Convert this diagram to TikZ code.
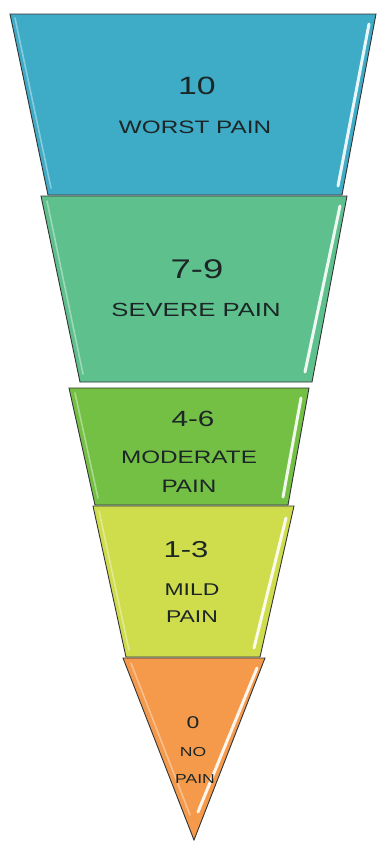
\documentclass[tikz,border=0pt]{standalone}
\usepackage{fontspec}
\setmainfont{Liberation Sans}[FakeStretch=1.35]
\definecolor{cBlue}{HTML}{3EABC7}
\definecolor{cTeal}{HTML}{5EC18D}
\definecolor{cGreen}{HTML}{74C045}
\definecolor{cLime}{HTML}{CFDD4C}
\definecolor{cOrange}{HTML}{F5994A}
\definecolor{cText}{HTML}{1C2626}
\tikzset{
  seg/.style={draw=black!80, line width=0.9pt, line join=miter},
  gloss/.style={white, line width=3pt, opacity=.9, line cap=round},
  bevel/.style={line width=1.6pt, opacity=.7, line cap=round},
  lbl/.style={text=cText, inner sep=0pt, align=center},
}
\begin{document}
\begin{tikzpicture}[x=1pt,y=-1pt]
\useasboundingbox (0,0) rectangle (377,841);
% segment 1
\fill[cBlue] (10,14) -- (376,14) -- (342,195) -- (48,195) -- cycle;
\draw[bevel, cBlue!45!white] (15,18) -- (51,188);
\draw[gloss] (369,24) -- (338,186);
\draw[seg] (10,14) -- (376,14) -- (342,195) -- (48,195) -- cycle;
% segment 2
\fill[cTeal] (41,196) -- (347,196) -- (312,382) -- (80,382) -- cycle;
\draw[bevel, cTeal!45!white] (47,201) -- (83,374);
\draw[gloss] (340,206) -- (305,372);
\draw[seg] (41,196) -- (347,196) -- (312,382) -- (80,382) -- cycle;
% segment 3
\fill[cGreen] (69,388) -- (309,388) -- (288,505) -- (95,505) -- cycle;
\draw[bevel, cGreen!45!white] (75,393) -- (98,498);
\draw[gloss] (301,398) -- (283,497);
\draw[seg] (69,388) -- (309,388) -- (288,505) -- (95,505) -- cycle;
% segment 4
\fill[cLime] (93,506) -- (294,506) -- (260,657) -- (126,657) -- cycle;
\draw[bevel, cLime!45!white] (99,511) -- (129,650);
\draw[gloss] (286,518) -- (254,648);
\draw[seg] (93,506) -- (294,506) -- (260,657) -- (126,657) -- cycle;
% segment 5
\fill[cOrange] (123,658) -- (265,658) -- (194,840) -- cycle;
\draw[bevel, cOrange!45!white] (131,663) -- (190,815);
\draw[gloss] (257,668) -- (198,812);
\draw[seg] (123,658) -- (265,658) -- (194,840) -- cycle;
% labels
\node[lbl, font=\fontsize{25}{25}\selectfont] (n10) at (197,86) {10};
\node[lbl, font=\fontsize{18}{18}\selectfont] (t10) at (195,127) {WORST PAIN};
\node[lbl, font=\fontsize{27}{27}\selectfont] (n79) at (197,269) {7-9};
\node[lbl, font=\fontsize{19}{19}\selectfont] (t79) at (196,310) {SEVERE PAIN};
\node[lbl, font=\fontsize{22}{22}\selectfont] (n46) at (193,419) {4-6};
\node[lbl, font=\fontsize{18}{18}\selectfont] (t46a) at (189,457) {MODERATE};
\node[lbl, font=\fontsize{18}{18}\selectfont] (t46b) at (189,486) {PAIN};
\node[lbl, font=\fontsize{23}{23}\selectfont] (n13) at (186,550) {1-3};
\node[lbl, font=\fontsize{17}{17}\selectfont] (t13a) at (192,590) {MILD};
\node[lbl, font=\fontsize{17}{17}\selectfont] (t13b) at (192,617) {PAIN};
\node[lbl, font=\fontsize{17}{17}\selectfont] (n0) at (193,723) {0};
\node[lbl, font=\fontsize{13}{13}\selectfont] (t0a) at (193,752) {NO};
\node[lbl, font=\fontsize{13}{13}\selectfont] (t0b) at (195,779) {PAIN};
\end{tikzpicture}
\end{document}
